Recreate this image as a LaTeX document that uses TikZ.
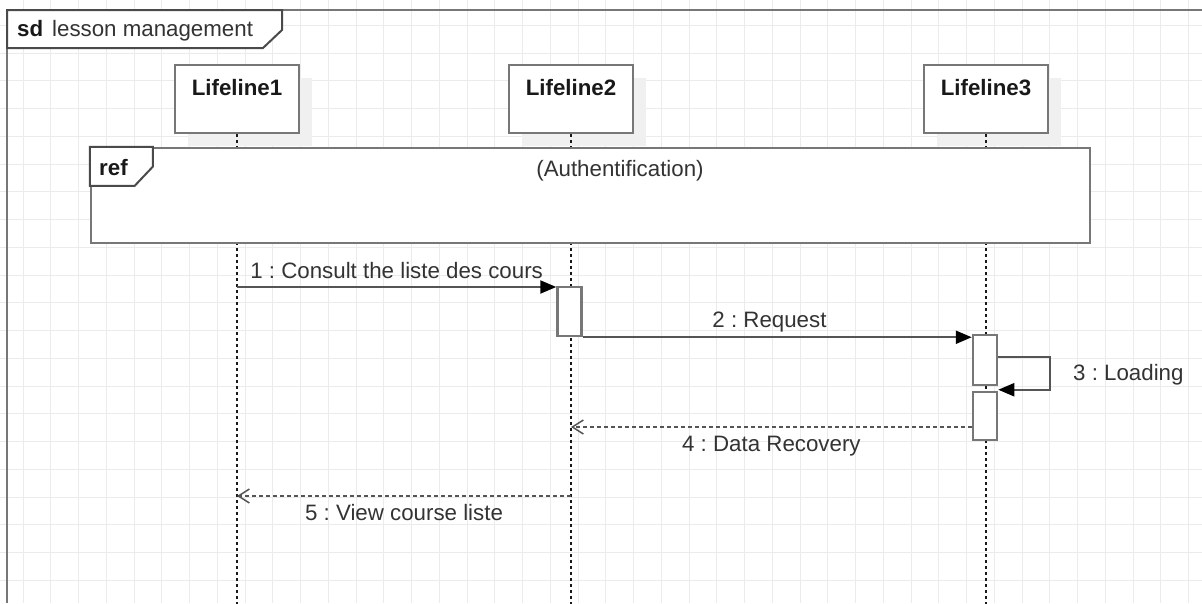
\documentclass[tikz,border=0pt]{standalone}
\usepackage{fontspec}
\setmainfont{Liberation Sans}
\usetikzlibrary{arrows.meta,shadows}

\definecolor{gridgray}{HTML}{EBEBEB}
\definecolor{framegray}{HTML}{777777}
\definecolor{tabgray}{HTML}{4A4A4A}
\definecolor{msggray}{HTML}{555555}
\definecolor{textgray}{HTML}{333333}

\newcommand{\diagfont}{\fontsize{22.3}{26}\selectfont\frenchspacing}

\tikzset{
  gridline/.style={draw=gridgray, line width=1pt},
  frameline/.style={draw=framegray, line width=2.5pt},
  tabline/.style={draw=tabgray, line width=2pt, fill=white, line join=miter},
  lbl/.style={font=\diagfont, text=textgray, inner sep=0pt},
  keyword/.style={font=\diagfont\bfseries, text=black!90, inner sep=0pt},
  lifelinebox/.style={draw=framegray, line width=2.5pt, fill=white,
    minimum width=124pt, inner xsep=0pt, inner ysep=0pt,
    text height=30pt, text depth=38pt, font=\diagfont\bfseries, text=black!90,
    drop shadow={shadow xshift=13pt, shadow yshift=-13pt, fill=black!6, opacity=1}},
  lifeline/.style={draw=black!90, line width=1.3pt, dash pattern=on 3pt off 3pt},
  refbox/.style={draw=framegray, line width=2.5pt, fill=white, inner sep=0pt},
  actbox/.style={draw=framegray, line width=2.5pt, fill=white, inner sep=0pt, minimum width=24pt},
  callmsg/.style={draw=msggray, line width=2.2pt, -{Triangle[length=16pt,width=13pt,color=black]}},
  replymsg/.style={draw=msggray, line width=2pt, dash pattern=on 4pt off 3pt,
    -{Straight Barb[length=11pt,width=14pt,line width=1.5pt]}},
  msglabel/.style={lbl, anchor=base}
}

\begin{document}
\begin{tikzpicture}[x=1pt, y=-1pt]
  \useasboundingbox (0,0) rectangle (1202,603);

  % Background grid
  \foreach \k in {0,...,42}
    \draw[gridline] ({23+\k*27.75},0) -- ++(0,603);
  \foreach \k in {-1,...,19}
    \draw[gridline] (0,{53+\k*27.75}) -- ++(1202,0);

  % Interaction frame
  \draw[frameline] (7,603) -- (7,10) -- (1202,10);
  \draw[tabline] (7,10) -- (282,10) -- (282,30) -- (263,48) -- (7,48) -- cycle;
  \node[keyword, anchor=base west] (sdkey) at (17,36) {sd};
  \node[lbl, anchor=base west] (sdname) at (52,36) {lesson management};

  % Lifelines
  \node[lifelinebox] (ll1) at (237,99) {Lifeline1};
  \node[lifelinebox] (ll2) at (571,99) {Lifeline2};
  \node[lifelinebox] (ll3) at (986,99) {Lifeline3};
  \foreach \ll in {ll1,ll2,ll3}
    \draw[lifeline] (\ll.south) -- ++(0,470);

  % Interaction use
  \node[refbox, minimum width=999pt, minimum height=95pt] (authref) at (590.5,195.5) {};
  \draw[tabline] (authref.north west) -- ++(63,0) -- ++(0,20) -- ++(-18,19) -- ++(-45,0) -- cycle;
  \node[keyword, anchor=base west] (refkey) at (99,175) {ref};
  \node[lbl, anchor=base] (reftext) at (620,176) {(Authentification)};

  % Activations
  \node[actbox, minimum height=49pt] (act2) at (569.5,311.5) {};
  \node[actbox, minimum height=50pt] (act3a) at (985,360) {};
  \node[actbox, minimum height=48pt] (act3b) at (985,416) {};

  % Messages
  \coordinate (m1) at ([yshift=-188pt]ll1.center);
  \draw[callmsg] (m1) -- (act2.west |- m1)
    node[msglabel, midway, yshift=9pt] {1 : Consult the liste des cours};
  \coordinate (m2) at (act2.south east);
  \draw[callmsg] (m2) -- (act3a.west |- m2)
    node[msglabel, pos=0.48, yshift=10pt] {2 : Request};
  \coordinate (m3a) at ([yshift=3pt]act3a.east);
  \coordinate (m3b) at ([yshift=1pt]act3b.north east);
  \draw[callmsg] (m3a) -- ++(52,0) |- (m3b);
  \node[lbl, anchor=base west] (m3label) at (1073,380) {3 : Loading};

  % Replies
  \coordinate (m4) at ([yshift=-11pt]act3b.west);
  \draw[replymsg] (m4) -- (m4 -| ll2)
    node[msglabel, midway, yshift=-24pt] {4 : Data Recovery};
  \coordinate (m5) at ([yshift=-397pt]ll2.center);
  \draw[replymsg] (m5) -- (m5 -| ll1.center)
    node[msglabel, midway, yshift=-24pt] {5 : View course liste};
\end{tikzpicture}
\end{document}
